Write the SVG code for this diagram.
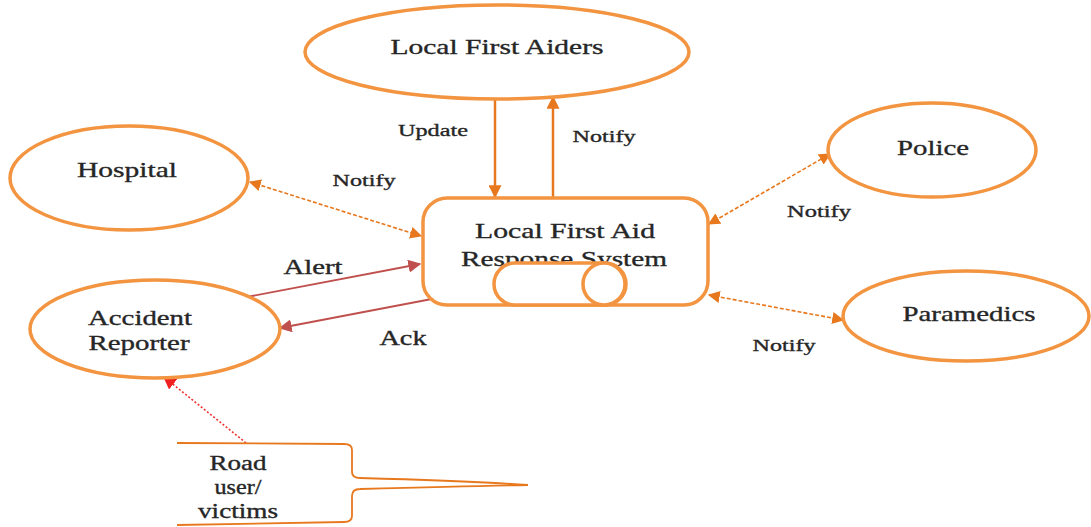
<svg xmlns="http://www.w3.org/2000/svg" width="1091" height="527" viewBox="0 0 1091 527" font-family="Liberation Serif, Times New Roman, DejaVu Serif, serif">
  <style>
    .node { fill: #ffffff; stroke: #F29440; stroke-width: 3.5; }
    text { fill: #262626; text-anchor: middle; stroke: #262626; stroke-width: 0.35; }
    .big { font-size: 22px; }
    .small { font-size: 17px; }
    .mid { font-size: 20px; }
    .solid { fill: none; stroke: #E8781E; stroke-width: 2.5; }
    .dash { fill: none; stroke: #E8781E; stroke-width: 1.6; stroke-dasharray: 4 2; }
    .red { fill: none; stroke: #C0504D; stroke-width: 1.8; }
    .dot { fill: none; stroke: #F03030; stroke-width: 1.6; stroke-dasharray: 2 2; }
    .brace { fill: none; stroke: #E8781E; stroke-width: 1.8; }
  </style>
  <defs>
    <marker id="ahBig" viewBox="0 0 10 10" refX="9" refY="5" markerWidth="13" markerHeight="13" orient="auto-start-reverse" markerUnits="userSpaceOnUse">
      <path d="M0,0 L10,5 L0,10 z" fill="#E8781E"/>
    </marker>
    <marker id="ahMid" viewBox="0 0 10 10" refX="9" refY="5" markerWidth="12" markerHeight="12" orient="auto-start-reverse" markerUnits="userSpaceOnUse">
      <path d="M0,0 L10,5 L0,10 z" fill="#E8781E"/>
    </marker>
    <marker id="ahRed" viewBox="0 0 10 10" refX="9" refY="5" markerWidth="13" markerHeight="13" orient="auto" markerUnits="userSpaceOnUse">
      <path d="M0,0 L10,5 L0,10 z" fill="#C0504D"/>
    </marker>
    <marker id="ahDot" viewBox="0 0 10 10" refX="9" refY="5" markerWidth="13" markerHeight="13" orient="auto" markerUnits="userSpaceOnUse">
      <path d="M0,0 L10,5 L0,10 z" fill="#F02020"/>
    </marker>
  </defs>

  <!-- connectors and their labels -->
  <g id="connectors">
    <line class="solid" x1="495" y1="100" x2="495" y2="197" marker-end="url(#ahBig)"/>
    <line class="solid" x1="553" y1="197" x2="553" y2="97" marker-end="url(#ahBig)"/>
    <line class="dash" x1="250" y1="182" x2="421" y2="236" marker-start="url(#ahMid)" marker-end="url(#ahMid)"/>
    <line class="dash" x1="709" y1="224" x2="830" y2="154" marker-start="url(#ahMid)" marker-end="url(#ahMid)"/>
    <line class="dash" x1="709" y1="295" x2="843" y2="320" marker-start="url(#ahMid)" marker-end="url(#ahMid)"/>
    <line class="red" x1="247" y1="297" x2="420" y2="264" marker-end="url(#ahRed)"/>
    <line class="red" x1="437" y1="298" x2="280" y2="328" marker-end="url(#ahRed)"/>
    <line class="dot" x1="246" y1="443" x2="164" y2="377" marker-end="url(#ahDot)"/>
    <text class="small" x="433" y="136" textLength="70" lengthAdjust="spacingAndGlyphs">Update</text>
    <text class="small" x="604" y="142" textLength="63" lengthAdjust="spacingAndGlyphs">Notify</text>
    <text class="small" x="364" y="186" textLength="63" lengthAdjust="spacingAndGlyphs">Notify</text>
    <text class="small" x="819" y="217" textLength="64" lengthAdjust="spacingAndGlyphs">Notify</text>
    <text class="small" x="784" y="351" textLength="63" lengthAdjust="spacingAndGlyphs">Notify</text>
    <text class="mid" x="313" y="274" textLength="59" lengthAdjust="spacingAndGlyphs">Alert</text>
    <text class="mid" x="403" y="345" textLength="47" lengthAdjust="spacingAndGlyphs">Ack</text>
  </g>

  <g id="local-first-aiders">
    <ellipse class="node" cx="497" cy="52" rx="192" ry="47"/>
    <text class="big" x="497" y="54" textLength="213" lengthAdjust="spacingAndGlyphs">Local First Aiders</text>
  </g>

  <g id="hospital">
    <ellipse class="node" cx="129" cy="178" rx="119" ry="52"/>
    <text class="big" x="127" y="177" textLength="100" lengthAdjust="spacingAndGlyphs">Hospital</text>
  </g>

  <g id="police">
    <ellipse class="node" cx="932" cy="150" rx="104" ry="47"/>
    <text class="big" x="933" y="155" textLength="72" lengthAdjust="spacingAndGlyphs">Police</text>
  </g>

  <g id="paramedics">
    <ellipse class="node" cx="966" cy="316" rx="123" ry="45"/>
    <text class="big" x="969" y="321" textLength="133" lengthAdjust="spacingAndGlyphs">Paramedics</text>
  </g>

  <g id="accident-reporter">
    <ellipse class="node" cx="155" cy="329" rx="125" ry="49"/>
    <text class="big" x="140" y="325" textLength="104" lengthAdjust="spacingAndGlyphs">Accident</text>
    <text class="big" x="139" y="350" textLength="101" lengthAdjust="spacingAndGlyphs">Reporter</text>
  </g>

  <g id="response-system">
    <rect class="node" x="423" y="198" width="285" height="107" rx="24" ry="24"/>
    <text class="big" x="565" y="238" textLength="180" lengthAdjust="spacingAndGlyphs">Local First Aid</text>
    <text class="big" x="564" y="266" textLength="206" lengthAdjust="spacingAndGlyphs">Response System</text>
    <!-- storage pill sits over the lower part of the title -->
    <rect class="node" x="494" y="263" width="132" height="42" rx="21" ry="21"/>
    <circle class="node" cx="604" cy="284" r="21"/>
  </g>

  <g id="road-users">
    <path class="brace" d="M177,443 L344,444 Q352,444 352,450 L352,472 Q352,478 360,478 Q470,481 528,485 Q470,486 360,489 Q352,489 352,496 L352,516 Q352,522 344,522 L177,525"/>
    <text class="mid" x="238" y="470" textLength="57" lengthAdjust="spacingAndGlyphs">Road</text>
    <text class="mid" x="238" y="494" textLength="47" lengthAdjust="spacingAndGlyphs">user/</text>
    <text class="mid" x="238" y="518" textLength="80" lengthAdjust="spacingAndGlyphs">victims</text>
  </g>
</svg>
